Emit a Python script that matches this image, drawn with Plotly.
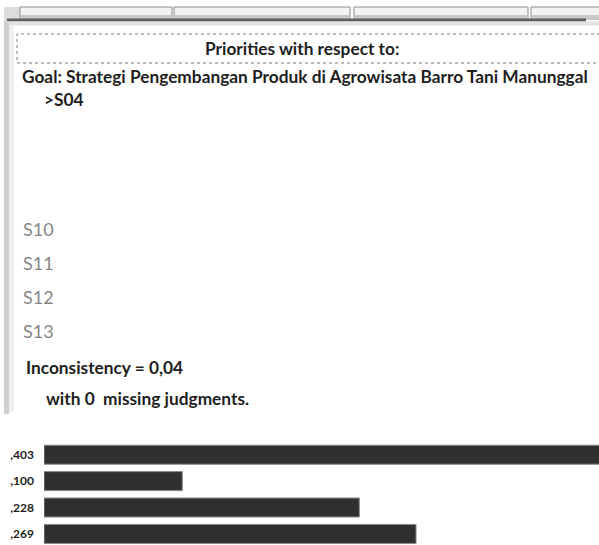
import plotly.graph_objects as go

# ---- data ----
alternatives = ["S10", "S11", "S12", "S13"]
priorities = [0.403, 0.100, 0.228, 0.269]
value_labels = ["," + f"{v:.3f}".split(".")[1] for v in priorities]
title_text = "Priorities with respect to:"
goal_text = "Goal: Strategi Pengembangan Produk di Agrowisata Barro Tani Manunggal"
node_text = ">S04"
inconsistency_text = "Inconsistency = 0,04"
missing_text = "with 0  missing judgments."

W, H = 599, 545
FONT = "Lato, DejaVu Sans Condensed, sans-serif"

def px(x):
    return x / W

def py(y):
    return 1 - y / H

fig = go.Figure()

fig.add_trace(go.Bar(
    x=priorities, y=list(range(len(alternatives))), orientation="h",
    width=0.72,
    marker=dict(color="#303030", line=dict(color="#8a8a8a", width=1)),
    xaxis="x", yaxis="y", hoverinfo="skip", showlegend=False,
))

shapes = []
def rect(x0, y0, x1, y1, fill, line=None):
    shapes.append(dict(type="rect", xref="paper", yref="paper",
                       x0=px(x0), x1=px(x1), y0=py(y1), y1=py(y0),
                       fillcolor=fill, line=line or dict(width=0)))

# light gray strip left of tabs
rect(4, 7, 20, 21, "#dcdcdc")
# top tabs
tabs = [(20, 172), (174, 350), (354, 528), (531, 605)]
for x0, x1 in tabs:
    rect(x0, 7, x1, 19, "#f3f3f3", dict(color="#8c8c8c", width=1))
    rect(x0 + 1, 15, x1 - 1, 18.5, "#c9c9c9")
# dark line under tabs
rect(7, 18.5, 586, 21.5, "#5e5e5e")
rect(7, 21.5, 599, 25.5, "#e2e2e2")
# left panel border
rect(4, 21, 9, 414, "#cfcfcf")
rect(9, 25, 14, 412, "#f0f0f0")
# dotted title box
rect(17, 34, 606, 63, "rgba(0,0,0,0)", dict(color="#7a7a7a", width=1, dash="dot"))

ann = []
def text(x, y, s, size=16, color="#1e1e1e", bold=True, anchor="left"):
    t = f"<b>{s}</b>" if bold else s
    ann.append(dict(xref="paper", yref="paper", x=px(x), y=py(y), text=t,
                    showarrow=False, xanchor=anchor, yanchor="middle",
                    font=dict(family=FONT, size=size, color=color)))

text(302, 48, title_text, size=17.3, anchor="center")
text(20, 77, goal_text, size=17.3)
text(42, 99, node_text, size=17.3)
alt_y = [229, 263, 297, 331]
for name, yy in zip(alternatives, alt_y):
    text(21, yy, name, size=18, color="#858585", bold=False)
text(24, 367, inconsistency_text, size=17.3)
text(44, 398, missing_text, size=17.3)

x_range_max = (W - 44) / 1383.0

fig.update_layout(
    width=W, height=H,
    margin=dict(l=0, r=0, t=0, b=0),
    paper_bgcolor="white", plot_bgcolor="white",
    shapes=shapes, annotations=ann,
    xaxis=dict(domain=[px(44), 1], range=[0, x_range_max], visible=False, fixedrange=True),
    yaxis=dict(domain=[0, py(441.5)], range=[3.42, -0.5], fixedrange=True,
               tickmode="array", tickvals=list(range(len(alternatives))), ticktext=value_labels,
               showgrid=False, zeroline=False, showline=False, ticks="",
               ticklabelstandoff=9,
               tickfont=dict(family=FONT, size=12, color="#1e1e1e", weight="bold")),
    bargap=0.28,
)

fig.write_html("out.html", config={"displayModeBar": False},
               post_script="document.body.style.margin='0';")
